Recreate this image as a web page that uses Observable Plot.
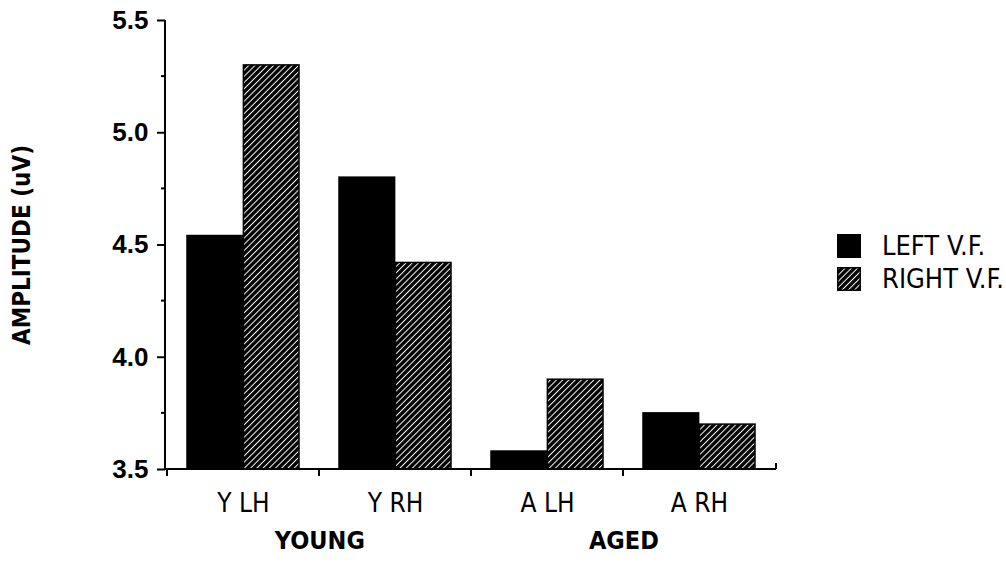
<!DOCTYPE html>
<html>
<head>
<meta charset="utf-8">
<script src="https://cdn.jsdelivr.net/npm/d3@7"></script>
<script src="https://cdn.jsdelivr.net/npm/@observablehq/plot@0.6"></script>
<style>
  html, body { margin: 0; padding: 0; background: #fff; }
  #chart { position: relative; width: 1006px; height: 568px; }
  g[aria-label^="y-axis"] text { font: bold 26px "Liberation Sans", Arial, sans-serif !important; fill: #000; }
  g[aria-label^="y-axis"] line, g[aria-label^="y-axis"] path { stroke: #000; stroke-width: 2px; }
  g[aria-label^="x-axis"] text { font: 26px "DejaVu Sans Condensed", "DejaVu Sans", sans-serif !important; font-stretch: condensed; fill: #000; }
  .legend { position: absolute; left: 837px; top: 229px; font: 27px "DejaVu Sans Condensed", "DejaVu Sans", sans-serif; font-stretch: condensed; color: #000; }
  .legend .item { display: flex; align-items: center; height: 33px; }
  .legend svg { margin-right: 21px; }
</style>
</head>
<body>
<div id="chart"></div>
<script>
// Mean amplitude by hemisphere group and visual field
const categories = ["Y LH", "Y RH", "A LH", "A RH"];
const series = ["LEFT V.F.", "RIGHT V.F."];
const leftVF = [4.54, 4.80, 3.58, 3.75];
const rightVF = [5.30, 4.42, 3.90, 3.70];
const groups = ["YOUNG", "AGED"];
const groupStart = ["Y LH", "A LH"];
const yDomain = [3.5, 5.5];
const yTicks = [3.5, 4.0, 4.5, 5.0, 5.5];
const yMinorTicks = [3.75, 4.25, 4.75, 5.25];
const yLabel = "AMPLITUDE (uV)";

const rows = categories.flatMap((cat, i) => [
  {cat, series: series[0], value: leftVF[i]},
  {cat, series: series[1], value: rightVF[i]}
]);

const width = 1006, height = 568;
const marginLeft = 165, marginRight = 230, marginTop = 20, marginBottom = 99;
const step = (width - marginLeft - marginRight) / categories.length;
const groupPad = 20;          // gap between a category edge and its bar pair
const half = step / 2;
const condensed = "DejaVu Sans Condensed, DejaVu Sans, sans-serif";

// Axis lines, category boundary ticks and minor y ticks
function axisFrame(index, scales, values, dims) {
  const x = scales.x, y = scales.y;
  const g = d3.create("svg:g").attr("stroke", "#000").attr("stroke-width", 2).attr("fill", "none");
  const left = dims.marginLeft, right = dims.width - dims.marginRight;
  const y0 = y(yDomain[0]), y1 = y(yDomain[1]);
  g.append("line").attr("x1", left).attr("x2", right).attr("y1", y0).attr("y2", y0);
  g.append("line").attr("x1", left).attr("x2", left).attr("y1", y0).attr("y2", y1);
  for (const c of categories) {
    const xc = x(c);
    g.append("line").attr("x1", xc).attr("x2", xc).attr("y1", y0).attr("y2", y0 + 7);
  }
  g.append("line").attr("x1", right).attr("x2", right).attr("y1", y0).attr("y2", y0 - 6);
  for (const v of yMinorTicks) {
    g.append("line").attr("x1", left - 4).attr("x2", left).attr("y1", y(v)).attr("y2", y(v));
  }
  return g.node();
}

const barStyle = {x: "cat", y1: () => yDomain[0], y2: "value", fill: "series", stroke: "#000", strokeWidth: 1.5};

const chart = Plot.plot({
  width, height, marginLeft, marginRight, marginTop, marginBottom,
  style: {background: "#fff", color: "#000"},
  x: {domain: categories, padding: 0, tickSize: 0, tickPadding: 24, label: null},
  y: {domain: yDomain, ticks: yTicks, tickFormat: d3.format(".1f"), tickSize: 8, tickPadding: 9, label: null},
  color: {domain: series, range: ["#000", "url(#hatch)"]},
  marks: [
    Plot.barY(rows.filter(d => d.series === series[0]), {...barStyle, insetLeft: groupPad, insetRight: half}),
    Plot.barY(rows.filter(d => d.series === series[1]), {...barStyle, insetLeft: half, insetRight: groupPad}),
    axisFrame,
    Plot.text(groups.map((name, i) => ({name, at: groupStart[i]})), {
      x: "at", text: "name", frameAnchor: "bottom", dx: half, dy: 79,
      fontSize: 25, fontWeight: "bold", fontFamily: condensed, fill: "#000"
    }),
    Plot.text([yLabel], {
      text: d => d, frameAnchor: "left", textAnchor: "middle", rotate: -90, dx: -143,
      fontSize: 24, fontWeight: "bold", fontFamily: condensed, fill: "#000"
    })
  ]
});

// Diagonal hatch used by the right visual field bars
const period = 4.4;
const defs = d3.select(chart).insert("defs", ":first-child");
const pat = defs.append("pattern").attr("id", "hatch").attr("patternUnits", "userSpaceOnUse")
  .attr("width", period).attr("height", period).attr("patternTransform", "rotate(45)");
pat.append("rect").attr("width", period).attr("height", period).attr("fill", "#000");
pat.append("line").attr("x1", period / 2).attr("x2", period / 2).attr("y1", 0).attr("y2", period)
  .attr("stroke", "#fff").attr("stroke-width", 1.0);

const container = document.getElementById("chart");
container.append(chart);

// Legend
const legend = d3.select(container).append("div").attr("class", "legend");
series.forEach((s, i) => {
  const item = legend.append("div").attr("class", "item");
  const sw = item.append("svg").attr("width", 24).attr("height", 24);
  sw.append("rect").attr("x", 0.75).attr("y", 0.75).attr("width", 22.5).attr("height", 22.5)
    .attr("fill", i === 0 ? "#000" : "url(#hatch)").attr("stroke", "#000").attr("stroke-width", 1.5);
  item.append("span").text(s);
});
</script>
</body>
</html>
